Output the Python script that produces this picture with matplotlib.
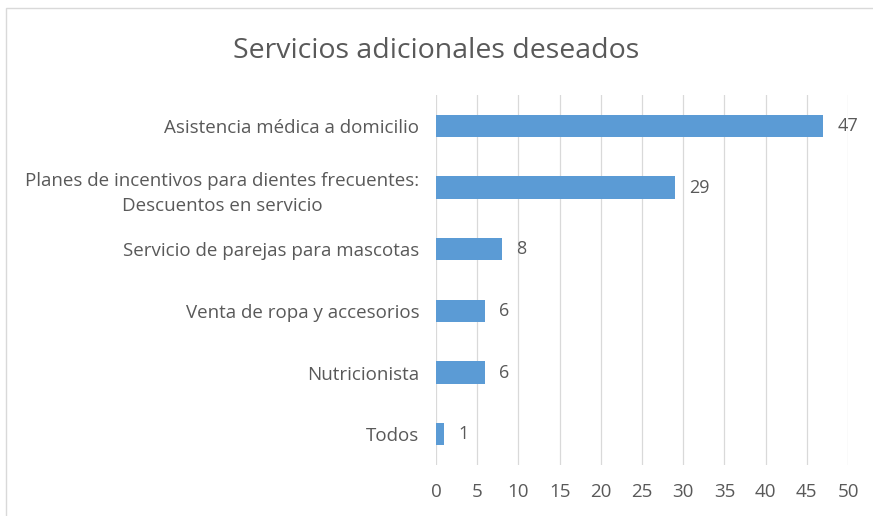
import matplotlib.pyplot as plt
from matplotlib.patches import Rectangle

# Servicios adicionales deseados (respuestas por opción)
categorias = [
    "Asistencia médica a domicilio",
    "Planes de incentivos para dientes frecuentes:\nDescuentos en servicio",
    "Servicio de parejas para mascotas",
    "Venta de ropa y accesorios",
    "Nutricionista",
    "Todos",
]
valores = [47, 29, 8, 6, 6, 1]
ticks_x = list(range(0, 55, 5))

plt.rcParams["font.family"] = ["Open Sans", "DejaVu Sans"]
gris = "#595959"
azul = "#5B9BD5"

fig = plt.figure(figsize=(8.73, 5.16), dpi=100)
ax = fig.add_axes([0.4994, 0.0988, 0.472, 0.7171])

pos = list(range(len(categorias)))[::-1]
ax.barh(pos, valores, height=0.36, color=azul, zorder=3)

for y, v in zip(pos, valores):
    ax.annotate(str(v), (v, y), xytext=(10, 0), textcoords="offset points",
                va="center", ha="left", fontsize=13, color=gris)

ax.set_xlim(0, 50)
ax.set_ylim(-0.5, len(categorias) - 0.5)
ax.set_xticks(ticks_x)
ax.set_yticks(pos)
ax.set_yticklabels(categorias, multialignment="center", linespacing=1.5)
ax.tick_params(axis="both", length=0, colors=gris, labelsize=13.5)
ax.tick_params(axis="y", pad=12)
ax.tick_params(axis="x", pad=13)
ax.grid(axis="x", color="#d9d9d9", linewidth=0.9, zorder=0)
for s in ax.spines.values():
    s.set_visible(False)

fig.text(0.5, 0.902, "Servicios adicionales deseados", ha="center", va="center",
         fontsize=20.5, color=gris)

# marco exterior del gráfico
fig.patches.append(Rectangle((6 / 873, -0.02), 1.0, 1 - 8 / 516 + 0.02,
                             transform=fig.transFigure, fill=False,
                             edgecolor="#d9d9d9", linewidth=1))

fig.savefig("out.png", dpi=100)
